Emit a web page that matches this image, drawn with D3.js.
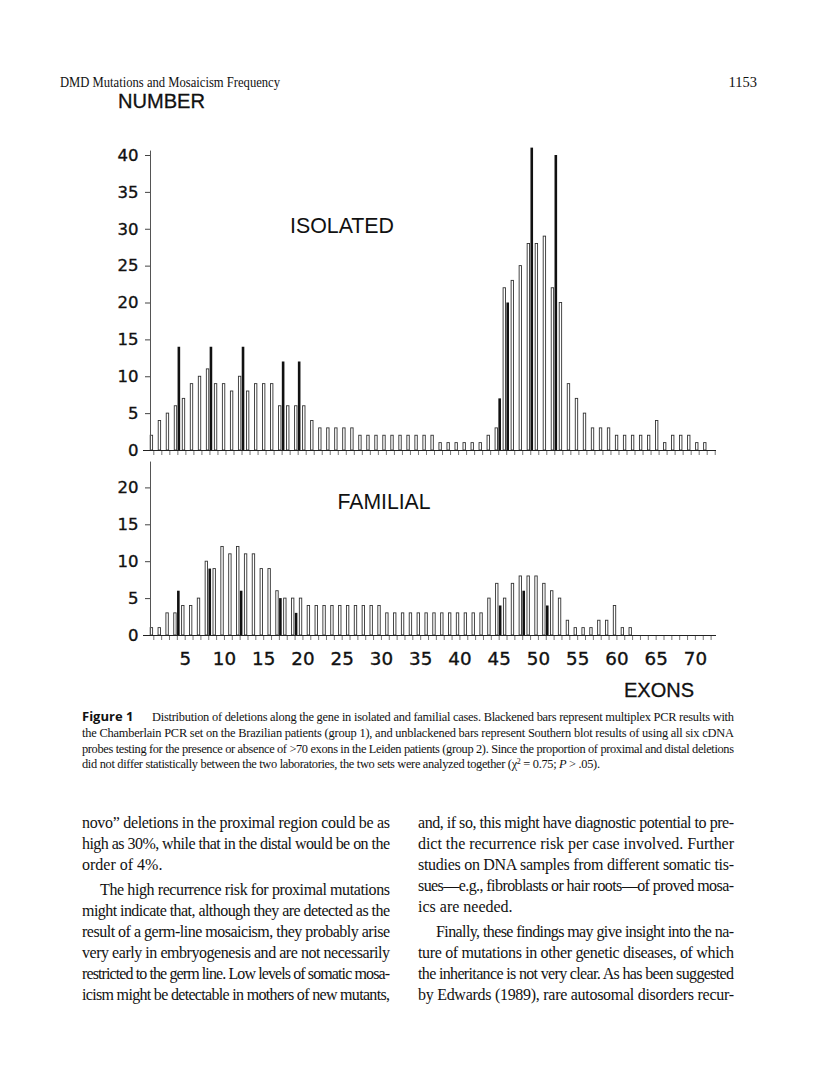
<!DOCTYPE html>
<html>
<head>
<meta charset="utf-8">
<script src="https://cdn.jsdelivr.net/npm/d3@7"></script>
<style>
  body { margin: 0; background: #fff; }
  svg { display: block; }
</style>
</head>
<body>
<script>
// exons 1..70 (isolated) and 1..72 (familial)
var isoExons = d3.range(1, 71);
var famExons = d3.range(1, 73);

// unblackened bars, Leiden group 2
var isolatedWhite = [2,4,5,6,7,9,10,11,9,9, 8,10,8,9,9,9,6,6,6,6,
  4,3,3,3,3,3,2,2,2,2, 2,2,2,2,2,2,1,1,1,1, 1,1,2,3,22,23,25,28,28,29,
  22,20,9,7,5,3,3,3,2,2, 2,2,2,4,1,2,2,2,1,1];
var familialWhite = [1,1,3,3,4,4,5,10,9,12, 11,12,11,11,9,9,6,5,5,5,
  4,4,4,4,4,4,4,4,4,4, 3,3,3,3,3,3,3,3,3,3, 3,3,3,5,7,5,7,8,8,8,
  7,6,5,2,1,1,1,2,2,4, 1,1,0,0,0,0,0,0,0,0, 0,0];

// blackened bars, Chamberlain multiplex PCR group 1
var pcrExons = [4, 8, 12, 17, 19, 44, 45, 48, 51];
var isolatedBlack = [14, 14, 14, 12, 12, 7, 20, 41, 40];
var familialBlack = [6, 9, 6, 5, 3, 0, 4, 6, 4];

var isoTicks = [0,5,10,15,20,25,30,35,40];
var famTicks = [0,5,10,15,20];
var exonLabels = [5,10,15,20,25,30,35,40,45,50,55,60,65,70];

var svg = d3.select("body").append("svg")
    .attr("width", 816).attr("height", 1081);

var sans = "'Liberation Sans', Arial, sans-serif";
var digits = "'DejaVu Sans', sans-serif";
var serif = "'Liberation Serif', 'Times New Roman', serif";

var xTop = d3.scaleLinear().domain([1, 70]).range([153.3, 706.7]);
var xBot = d3.scaleLinear().domain([1, 72]).range([153.3, 710.6]);
var yTop = d3.scaleLinear().domain([0, 40]).range([450, 155]);
var yBot = d3.scaleLinear().domain([0, 20]).range([635, 487.4]);

function panel(x, y, exons, white, black, ticks, yMax, nTicks) {
  var g = svg.append("g");

  // white bars sit just left of the exon tick, black bars just right
  g.selectAll(".w").data(exons.filter(function(e, i) { return white[i] > 0; }))
    .enter().append("rect")
    .attr("x", function(e) { return x(e) - 3.1; })
    .attr("y", function(e) { return y(white[e - 1]); })
    .attr("width", 2.4)
    .attr("height", function(e) { return y(0) - y(white[e - 1]); })
    .attr("fill", "#fff").attr("stroke", "#333").attr("stroke-width", 0.9);

  g.selectAll(".b").data(pcrExons.filter(function(e, i) { return black[i] > 0; }))
    .enter().append("rect")
    .attr("x", function(e) { return x(e) + 0.2; })
    .attr("y", function(e) { return y(black[pcrExons.indexOf(e)]); })
    .attr("width", 2.6)
    .attr("height", function(e) { return y(0) - y(black[pcrExons.indexOf(e)]); })
    .attr("fill", "#111");

  // y axis
  var ya = g.append("g").attr("transform", "translate(150,0)")
    .call(d3.axisLeft(y).tickValues(ticks).tickSize(5).tickPadding(6.5).tickSizeOuter(0));
  ya.select(".domain").remove();
  ya.selectAll("line").attr("stroke", "#444");
  ya.selectAll("text").attr("font-family", digits).attr("font-size", 16.5)
    .attr("fill", "#111").attr("stroke", "#111").attr("stroke-width", 0.35);
  g.append("line").attr("x1", 150.5).attr("x2", 150.5)
    .attr("y1", y(yMax)).attr("y2", y(0)).attr("stroke", "#555").attr("stroke-width", 1);

  // x axis with a tick per exon
  var xa = g.append("g").attr("transform", "translate(0," + y(0) + ")")
    .call(d3.axisBottom(x).tickValues(d3.range(1, nTicks + 1)).tickSize(5).tickFormat(""));
  xa.select(".domain").remove();
  xa.selectAll("line").attr("stroke", "#555").attr("stroke-width", 0.8);
  g.append("line").attr("x1", 143).attr("x2", 716)
    .attr("y1", y(0) + 0.5).attr("y2", y(0) + 0.5).attr("stroke", "#222").attr("stroke-width", 1.1);
  return g;
}

panel(xTop, yTop, isoExons, isolatedWhite, isolatedBlack, isoTicks, 40.6, 71);
panel(xBot, yBot, famExons, familialWhite, familialBlack, famTicks, 23.5, 72);

// exon labels
var xl = svg.append("g").attr("transform", "translate(0,635)")
  .call(d3.axisBottom(xBot).tickValues(exonLabels).tickSize(0).tickPadding(17));
xl.select(".domain").remove();
xl.selectAll("text").attr("font-family", digits).attr("font-size", 18.3)
  .attr("fill", "#111").attr("stroke", "#111").attr("stroke-width", 0.35);

function label(txt, x, yb, size, anchor, font, len) {
  var t = svg.append("text").attr("x", x).attr("y", yb)
    .attr("font-family", font).attr("font-size", size)
    .attr("text-anchor", anchor).attr("fill", "#111").text(txt);
  if (len) t.attr("textLength", len).attr("lengthAdjust", "spacingAndGlyphs");
  return t;
}

label("NUMBER", 118, 108, 20.5, "start", sans, 87).attr("stroke", "#111").attr("stroke-width", 0.3);
label("ISOLATED", 342, 233.3, 21.5, "middle", sans, 104);
label("FAMILIAL", 384, 509.3, 21.5, "middle", sans, 93);
label("EXONS", 659, 697, 20.5, "middle", sans, 70).attr("stroke", "#111").attr("stroke-width", 0.3);

// running head
label("DMD Mutations and Mosaicism Frequency", 60, 87, 14.5, "start", serif, 220);
label("1153", 757, 87, 14.5, "end", serif);

// caption
var capY = [721, 737, 752.5, 768];
svg.append("text").attr("x", 82).attr("y", capY[0])
  .attr("font-family", "'Open Sans', 'Liberation Sans', sans-serif").attr("font-weight", "bold")
  .attr("font-size", 13).attr("fill", "#111").text("Figure 1");
var capLines = [
  [152, "Distribution of deletions along the gene in isolated and familial cases. Blackened bars represent multiplex PCR results with", 582],
  [82, "the Chamberlain PCR set on the Brazilian patients (group 1), and unblackened bars represent Southern blot results of using all six cDNA", 652],
  [82, "probes testing for the presence or absence of >70 exons in the Leiden patients (group 2). Since the proportion of proximal and distal deletions", 652]
];
capLines.forEach(function(c, i) {
  svg.append("text").attr("x", c[0]).attr("y", capY[i])
    .attr("font-family", serif).attr("font-size", 12.4).attr("fill", "#111")
    .attr("textLength", c[2]).attr("lengthAdjust", "spacing").text(c[1]);
});
var last = svg.append("text").attr("x", 82).attr("y", capY[3])
  .attr("font-family", serif).attr("font-size", 12.4).attr("fill", "#111")
  .attr("textLength", 518).attr("lengthAdjust", "spacing");
last.append("tspan").text("did not differ statistically between the two laboratories, the two sets were analyzed together (\u03C7");
last.append("tspan").attr("baseline-shift", "super").attr("font-size", 8).text("2");
last.append("tspan").text(" = 0.75; ");
last.append("tspan").attr("font-style", "italic").text("P");
last.append("tspan").text(" > .05).");

// body text, two justified columns
var leftCol = [
  ["novo\u201D deletions in the proximal region could be as", 0, true],
  ["high as 30%, while that in the distal would be on the", 0, true],
  ["order of 4%.", 0, false],
  ["The high recurrence risk for proximal mutations", 18, true],
  ["might indicate that, although they are detected as the", 0, true],
  ["result of a germ-line mosaicism, they probably arise", 0, true],
  ["very early in embryogenesis and are not necessarily", 0, true],
  ["restricted to the germ line. Low levels of somatic mosa-", 0, true],
  ["icism might be detectable in mothers of new mutants,", 0, true]
];
var rightCol = [
  ["and, if so, this might have diagnostic potential to pre-", 0, true],
  ["dict the recurrence risk per case involved. Further", 0, true],
  ["studies on DNA samples from different somatic tis-", 0, true],
  ["sues\u2014e.g., fibroblasts or hair roots\u2014of proved mosa-", 0, true],
  ["ics are needed.", 0, false],
  ["Finally, these findings may give insight into the na-", 18, true],
  ["ture of mutations in other genetic diseases, of which", 0, true],
  ["the inheritance is not very clear. As has been suggested", 0, true],
  ["by Edwards (1989), rare autosomal disorders recur-", 0, true]
];
var leftY = [828, 849, 870, 895, 916, 937, 958, 979, 1000];
var rightY = [828, 849, 870, 891, 912, 937, 958, 979, 1000];

function column(lines, ys, x0, width) {
  lines.forEach(function(l, i) {
    var t = svg.append("text").attr("x", x0 + l[1]).attr("y", ys[i])
      .attr("font-family", serif).attr("font-size", 16).attr("fill", "#111").text(l[0]);
    if (l[2]) t.attr("textLength", width - l[1]).attr("lengthAdjust", "spacing");
  });
}
column(leftCol, leftY, 82, 308);
column(rightCol, rightY, 418, 316);
</script>
</body>
</html>
